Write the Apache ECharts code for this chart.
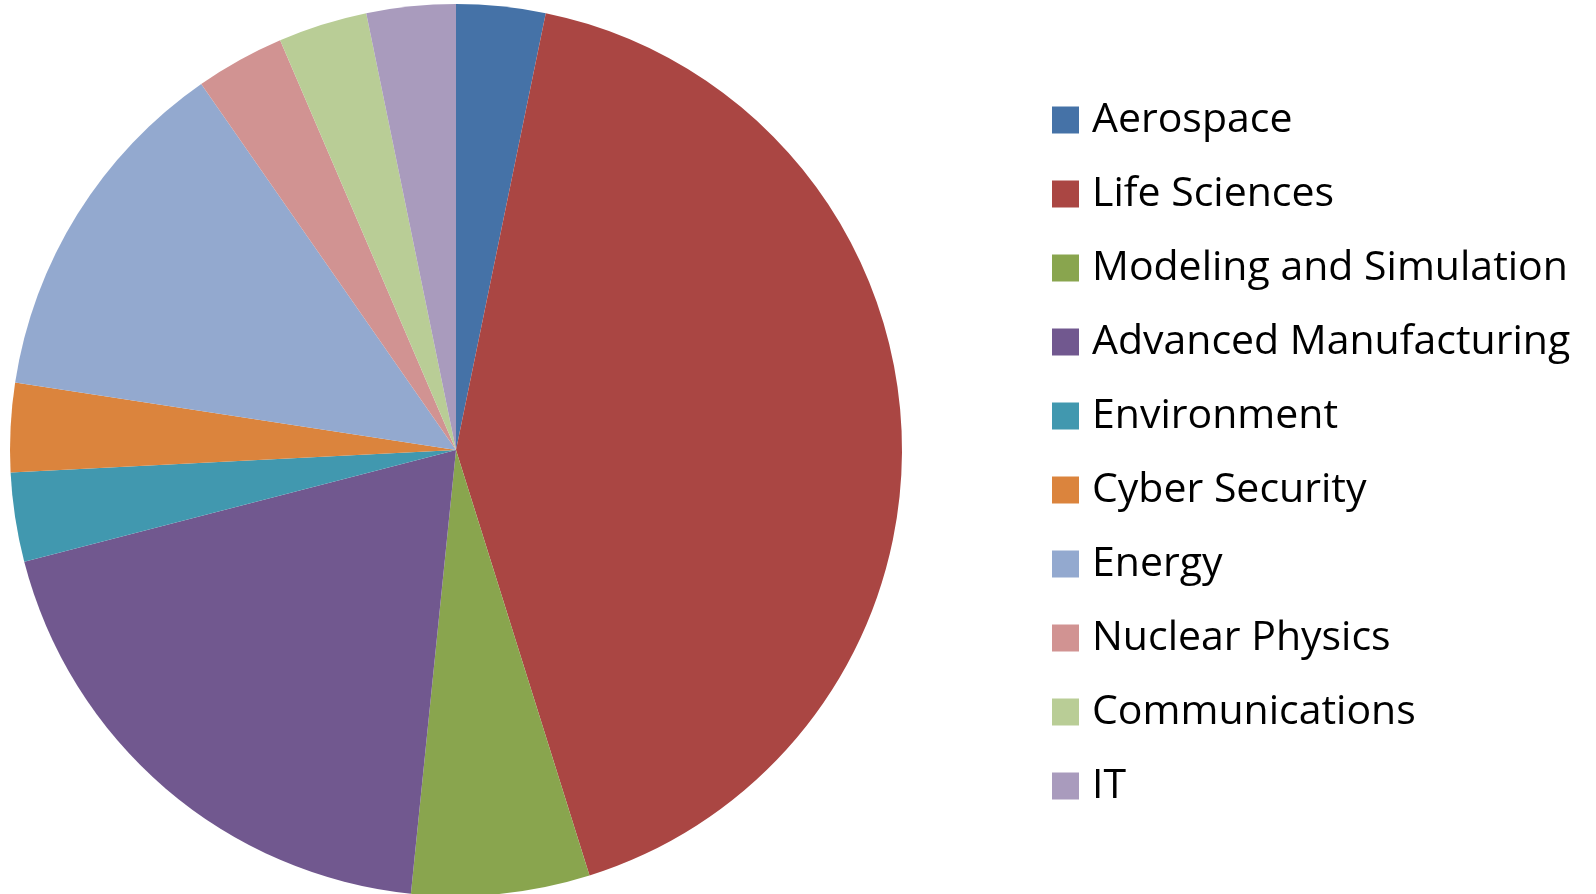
<!DOCTYPE html>
<html>
<head>
<meta charset="utf-8">
<script src="https://cdn.jsdelivr.net/npm/echarts@6/dist/echarts.min.js"></script>
<style>
html,body{margin:0;padding:0;background:#fff;}
#chart{width:1596px;height:894px;}
</style>
</head>
<body>
<div id="chart"></div>
<script>
const categories = ["Aerospace","Life Sciences","Modeling and Simulation","Advanced Manufacturing","Environment","Cyber Security","Energy","Nuclear Physics","Communications","IT"];
const values = [1,13,2,6,1,1,4,1,1,1];
const colors = ["#4572A7","#AA4643","#89A54E","#71588F","#4198AF","#DB843D","#93A9CF","#D19392","#B9CD96","#A99BBD"];

const chart = echarts.init(document.getElementById('chart'));
chart.setOption({
  animation:false,
  color: colors,
  legend:{
    orient:'vertical',
    left:1052, top:99, padding:0,
    itemWidth:27, itemHeight:27, itemGap:32,
    icon:'rect',
    textStyle:{fontFamily:'Open Sans', fontSize:41, color:'#000', lineHeight:42, padding:[0,0,0,8]},
    data: categories
  },
  series:[{
    type:'pie',
    center:[456,450],
    radius:[0,446],
    startAngle:90,
    clockwise:true,
    label:{show:false},
    labelLine:{show:false},
    emphasis:{disabled:true},
    itemStyle:{borderWidth:0},
    data: categories.map((c,i)=>({name:c, value:values[i]}))
  }]
});
</script>
</body>
</html>
